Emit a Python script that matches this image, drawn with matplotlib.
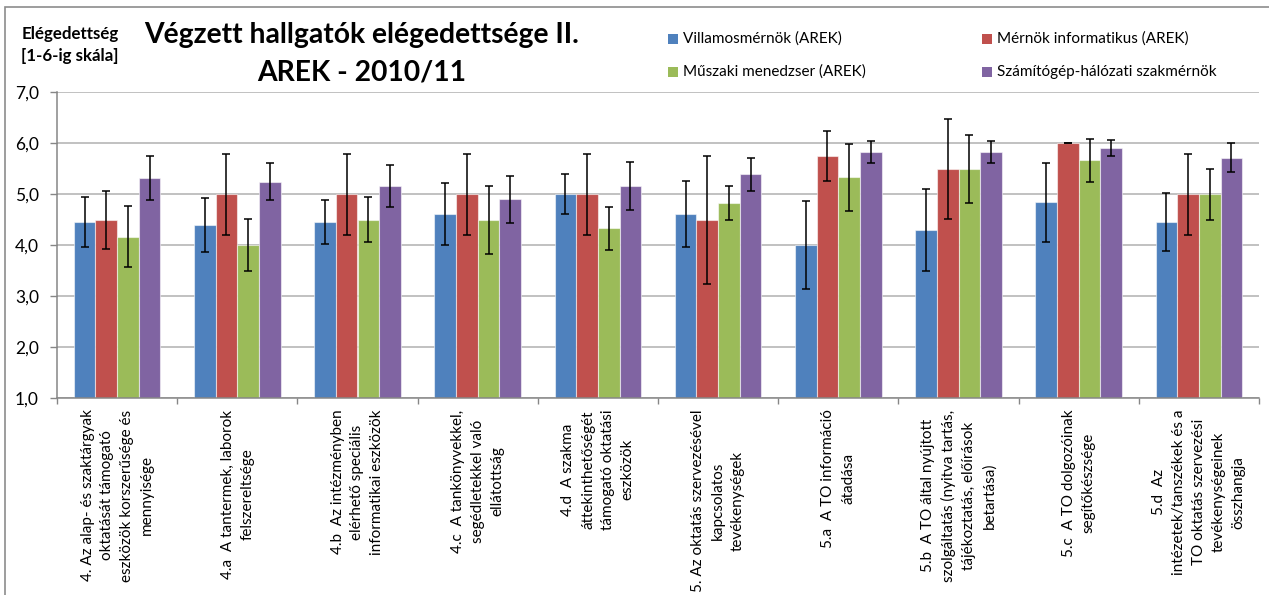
import matplotlib
matplotlib.use("Agg")
import matplotlib.pyplot as plt
import numpy as np
from matplotlib.patches import Rectangle

plt.rcParams['font.family'] = ['Lato', 'DejaVu Sans']

categories = [
    "4. Az alap- és szaktárgyak\noktatását támogató\neszközök korszerűsége és\nmennyisége",
    "4.a  A tantermek, laborok\nfelszereltsége",
    "4.b  Az intézményben\nelérhető speciális\ninformatikai eszközök",
    "4.c  A tankönyvekkel,\nsegédletekkel való\nellátottság",
    "4.d  A szakma\náttekinthetőségét\ntámogató oktatási\neszközök",
    "5. Az oktatás szervezésével\nkapcsolatos\ntevékenységek",
    "5.a  A TO információ\nátadása",
    "5.b  A TO által nyújtott\nszolgáltatás (nyitva tartás,\ntájékoztatás, előírások\nbetartása)",
    "5.c  A TO dolgozóinak\nsegítőkészsége",
    "5.d  Az\nintézetek/tanszékek és a\nTO oktatás szervezési\ntevékenységeinek\nösszhangja",
]

series_names = [
    "Villamosmérnök (AREK)",
    "Mérnök informatikus (AREK)",
    "Műszaki menedzser (AREK)",
    "Számítógép-hálózati szakmérnök",
]

villamos = [4.46, 4.39, 4.46, 4.61, 5.00, 4.61, 4.00, 4.30, 4.84, 4.46]
merninf = [4.50, 5.00, 5.00, 5.00, 5.00, 4.50, 5.75, 5.50, 6.00, 5.00]
muszaki = [4.17, 4.00, 4.50, 4.50, 4.33, 4.83, 5.33, 5.50, 5.67, 5.00]
szamhal = [5.32, 5.25, 5.16, 4.90, 5.16, 5.39, 5.83, 5.83, 5.91, 5.72]

villamos_err = [0.49, 0.53, 0.43, 0.61, 0.39, 0.65, 0.86, 0.81, 0.77, 0.57]
merninf_err = [0.57, 0.80, 0.80, 0.80, 0.80, 1.26, 0.49, 0.98, 0.00, 0.80]
muszaki_err = [0.60, 0.51, 0.44, 0.67, 0.42, 0.33, 0.65, 0.67, 0.42, 0.50]
szamhal_err = [0.44, 0.36, 0.41, 0.46, 0.47, 0.32, 0.22, 0.22, 0.16, 0.28]

y_ticks = [1, 2, 3, 4, 5, 6, 7]
y_tick_labels = ["1,0", "2,0", "3,0", "4,0", "5,0", "6,0", "7,0"]

title_line1 = "Végzett hallgatók elégedettsége II."
title_line2 = "AREK - 2010/11"
y_label_lines = ["Elégedettség", "[1-6-ig skála]"]

colors = ["#4F81BD", "#C0504D", "#9BBB59", "#8064A2"]

W, H = 1269, 595
fig = plt.figure(figsize=(W / 100, H / 100), dpi=100)
fig.patch.set_facecolor("white")

ax = fig.add_axes([57 / W, 1 - 398.3 / H, (1259 - 57) / W, (398.3 - 92.3) / H])

values = [villamos, merninf, muszaki, szamhal]
errors = [villamos_err, merninf_err, muszaki_err, szamhal_err]
x = np.arange(len(categories))
bw = 0.18
for i, (vals, errs, col) in enumerate(zip(values, errors, colors)):
    pos = x + (i - 1.5) * bw
    ax.bar(pos, np.array(vals) - 1, bottom=1, width=bw, color=col,
           edgecolor=(1, 1, 1, 0.55), linewidth=0.8, zorder=2)
    ax.errorbar(pos, vals, yerr=errs, fmt='none', ecolor='black',
                elinewidth=1.1, capsize=2.6, capthick=1.1, zorder=3)

ax.set_xlim(-0.5, len(categories) - 0.5)
ax.set_ylim(1, 7)
ax.set_yticks(y_ticks)
ax.set_yticklabels(y_tick_labels, fontsize=12.5)
ax.yaxis.grid(True, color="#B0B0B0", linewidth=1.1, zorder=0)
ax.set_axisbelow(True)

ax.set_xticks(np.arange(len(categories) + 1) - 0.5)
ax.set_xticklabels([])
ax.set_xticks(x, minor=True)
ax.set_xticklabels(categories, minor=True, rotation=90, ha='center', va='top',
                   multialignment='center', fontsize=11, linespacing=1.52)
ax.tick_params(axis='x', which='minor', length=0, pad=8)
ax.tick_params(axis='x', which='major', length=4, color="#868686", width=1)
ax.tick_params(axis='y', length=5, color="#868686", width=1, pad=8)

for s in ["top", "right"]:
    ax.spines[s].set_visible(False)
for s in ["left", "bottom"]:
    ax.spines[s].set_color("#868686")
    ax.spines[s].set_linewidth(1.1)

# chart border
fig.patches.append(Rectangle((4.7 / W, -0.1), 1.2, 1 - 7.5 / H + 0.1,
                             transform=fig.transFigure, fill=False,
                             edgecolor="#8C8C8C", linewidth=1.2))

fig.text(362 / W, 1 - 35 / H, title_line1, ha='center', va='center',
         fontsize=20.3, fontweight='bold')
fig.text(362 / W, 1 - 73 / H, title_line2, ha='center', va='center',
         fontsize=20.3, fontweight='bold')
for k, line in enumerate(y_label_lines):
    fig.text(70 / W, 1 - (34 + 22 * k) / H, line, ha='center', va='center',
             fontsize=12.2, fontweight='bold')

# legend
leg_pos = [(668, 39), (982, 39), (668, 72), (982, 72)]
for (lx, ly), name, col in zip(leg_pos, series_names, colors):
    fig.patches.append(Rectangle((lx / W, 1 - (ly + 5) / H), 10 / W, 10 / H,
                                 transform=fig.transFigure, facecolor=col,
                                 edgecolor='none'))
    fig.text((lx + 15) / W, 1 - ly / H, name, ha='left', va='center',
             fontsize=11)

fig.savefig("out.png", dpi=100)
